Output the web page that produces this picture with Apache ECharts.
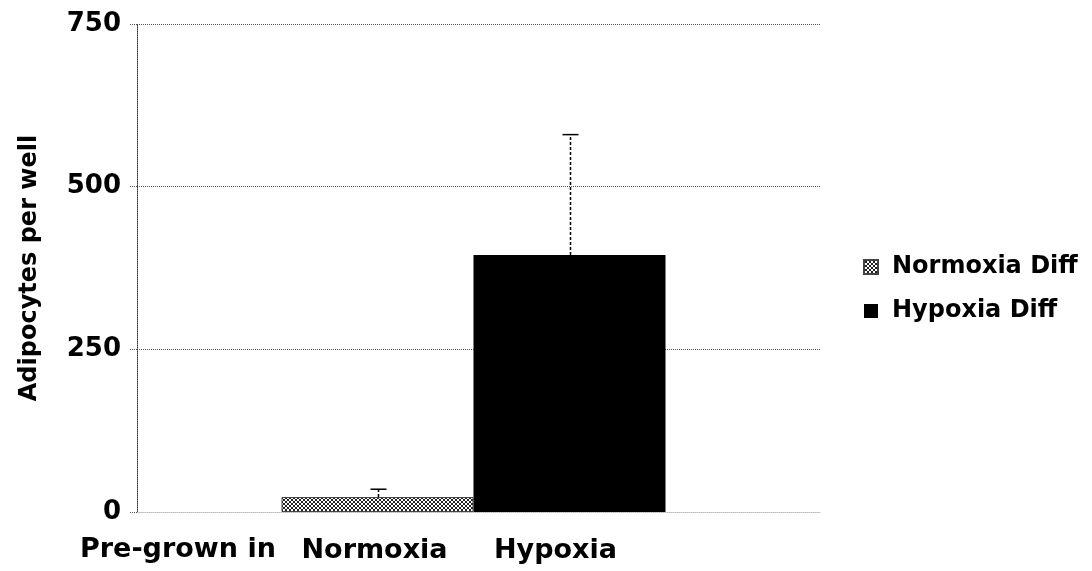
<!DOCTYPE html>
<html><head><meta charset="utf-8">
<script src="https://cdn.jsdelivr.net/npm/echarts@6/dist/echarts.min.js"></script>
<style>html,body{margin:0;padding:0;background:#fff}#c{width:1092px;height:571px}</style>
</head><body><div id="c"></div>
<script>
const categories = ['Pre-grown in'];
const groupLabels = ['Normoxia', 'Hypoxia'];
const seriesNames = ['Normoxia Diff', 'Hypoxia Diff'];
const normoxiaValues = [23];
const hypoxiaValues = [395];
const errorUpper = [35, 580];
const yTicks = [0, 250, 500, 750];
const yTitle = 'Adipocytes per well';
const xTitle = 'Pre-grown in';

const FONT = 'DejaVu Sans';
const BAR_W = 192;
const SPACER_W = 10;

function hatch() {
  const c = document.createElement('canvas');
  c.width = 4; c.height = 4;
  const g = c.getContext('2d');
  g.fillStyle = '#ffffff'; g.fillRect(0, 0, 4, 4);
  g.fillStyle = '#222222';
  [[0,0],[1,1],[2,2],[3,3],[0,3],[1,2],[2,1],[3,0]].forEach(p => g.fillRect(p[0], p[1], 1, 1));
  return c;
}
const hatchFill = { image: hatch(), repeat: 'repeat' };

const chart = echarts.init(document.getElementById('c'), null, { renderer: 'canvas' });
// bar centre offsets from the category centre (two bars + a thin empty spacer, no gaps)
const totalW = 2 * BAR_W + SPACER_W;
const centreOffsets = [-totalW / 2 + BAR_W / 2, -totalW / 2 + BAR_W * 1.5];
const errData = [[0, normoxiaValues[0], errorUpper[0], 0], [0, hypoxiaValues[0], errorUpper[1], 1]];

const labelStyle = { fontFamily: FONT, fontWeight: 'bold', fontSize: 27, color: '#000' };

chart.setOption({
  animation: false,
  backgroundColor: '#ffffff',
  grid: { left: 137, right: 272, top: 24, bottom: 59 },
  legend: {
    orient: 'vertical', left: 858, top: 250,
    itemWidth: 14, itemHeight: 14, itemGap: 20, icon: 'rect',
    data: seriesNames,
    textStyle: { fontFamily: FONT, fontWeight: 'bold', fontSize: 24, color: '#000', padding: [0, 0, 0, 9] }
  },
  xAxis: {
    type: 'category', data: categories, offset: 5,
    axisLine: { show: true, lineStyle: { color: '#bbb', type: 'dotted', width: 1 } },
    axisTick: { show: false }, axisLabel: { show: false }
  },
  yAxis: {
    type: 'value', min: yTicks[0], max: yTicks[yTicks.length - 1], interval: 250,
    name: yTitle, nameLocation: 'middle', nameGap: 95, nameRotate: 90,
    nameTextStyle: { fontFamily: FONT, fontWeight: 'bold', fontSize: 24, color: '#000' },
    axisLine: { show: true, lineStyle: { color: '#333', type: 'dotted', width: 1 } },
    axisTick: { show: true, length: 8, lineStyle: { color: '#555', type: 'dotted' } },
    axisLabel: { margin: 16, fontFamily: FONT, fontWeight: 'bold', fontSize: 26, color: '#000' },
    splitLine: { show: true, lineStyle: { color: '#555', type: 'dotted', width: 1 } }
  },
  graphic: [{
    type: 'text', left: 80, top: 536,
    style: { text: xTitle, font: 'bold 27px "DejaVu Sans"', fill: '#000' }
  }],
  series: [
    {
      name: seriesNames[0], type: 'bar', data: normoxiaValues, barWidth: BAR_W, barGap: '0%',
      itemStyle: { color: hatchFill, borderColor: '#444', borderWidth: 1 },
      label: Object.assign({ show: true, formatter: groupLabels[0], position: ['50%', '100%'], offset: [-3, 39],
        align: 'center', verticalAlign: 'middle' }, labelStyle)
    },
    {
      name: seriesNames[1], type: 'bar', data: hypoxiaValues, barWidth: BAR_W, barGap: '0%',
      itemStyle: { color: '#000' },
      label: Object.assign({ show: true, formatter: groupLabels[1], position: ['50%', '100%'], offset: [-14, 39],
        align: 'center', verticalAlign: 'middle' }, labelStyle)
    },
    {
      name: 'spacer', type: 'bar', data: [0], barWidth: SPACER_W, barGap: '0%', silent: true,
      itemStyle: { color: 'rgba(0,0,0,0)' }
    },
    {
      type: 'custom', silent: true, z: 5,
      data: errData,
      renderItem: function (params, api) {
        const idx = api.value(3);
        const top = api.coord([api.value(0), api.value(2)]);
        const base = api.coord([api.value(0), api.value(1)]);
        const x = Math.round(top[0] + centreOffsets[idx]) + 0.5;
        return {
          type: 'group', children: [
            { type: 'line', shape: { x1: x, y1: base[1], x2: x, y2: top[1] },
              style: { stroke: '#000', lineWidth: 1.5, lineDash: [3, 2] } },
            { type: 'line', shape: { x1: x - 8, y1: top[1], x2: x + 8, y2: top[1] },
              style: { stroke: '#000', lineWidth: 1.5 } }
          ]
        };
      }
    }
  ]
});
</script></body></html>
